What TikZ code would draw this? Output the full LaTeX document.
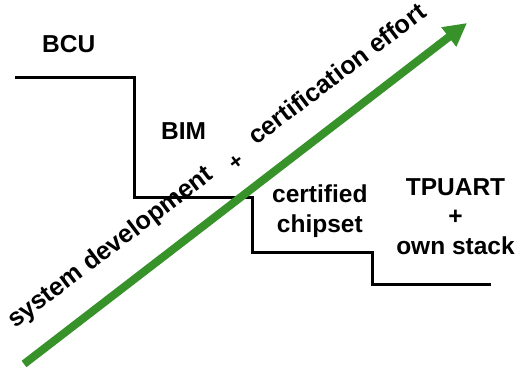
\documentclass[tikz,border=0pt]{standalone}
\usepackage{fontspec}
\setmainfont{Liberation Sans}
\usetikzlibrary{arrows.meta}
\definecolor{arrowgreen}{RGB}{55,146,42}
\tikzset{
  lbl/.style={font=\bfseries\fontsize{24.5bp}{29.5bp}\selectfont, inner sep=0pt, align=center},
  axislbl/.style={font=\bfseries\fontsize{25.3bp}{30bp}\selectfont, inner sep=0pt},
  stair/.style={draw=black, line width=3bp},
  effort/.style={draw=arrowgreen, line width=8bp, -{Triangle[length=23bp,width=23bp]}}
}
\begin{document}
\begin{tikzpicture}[x=1bp,y=-1bp]
\useasboundingbox (0,0) rectangle (519,367);
% staircase
\coordinate (s0) at (15,77);
\coordinate (s1) at (134,77);
\coordinate (s2) at (134,197);
\coordinate (s3) at (252,197);
\coordinate (s4) at (252,252);
\coordinate (s5) at (372,252);
\coordinate (s6) at (372,284);
\coordinate (s7) at (491,284);
\draw[stair] (s0) -- (s1) -- (s2) -- (s3) -- (s4) -- (s5) -- (s6) -- (s7);
% arrow
\coordinate (a0) at (24,364);
\coordinate (a1) at (467,23);
\draw[effort] (a0) -- (a1);
% labels
\node[lbl, anchor=base west] (bcu) at (42,52) {BCU};
\node[lbl, anchor=base west] (bim) at (161,139) {BIM};
\node[lbl, anchor=base west] (cert) at (272,232) {certified\\chipset};
\node[lbl, anchor=base] (tp) at (455.5,254) {TPUART\\+\\own stack};
\node[axislbl, anchor=base west, rotate=37.2] (axis) at (15,329) {system development\hspace{20.5bp}{\fontsize{22bp}{22bp}\selectfont\raisebox{-8bp}{+}}\hspace{19.4bp}certification effort};
\end{tikzpicture}
\end{document}
